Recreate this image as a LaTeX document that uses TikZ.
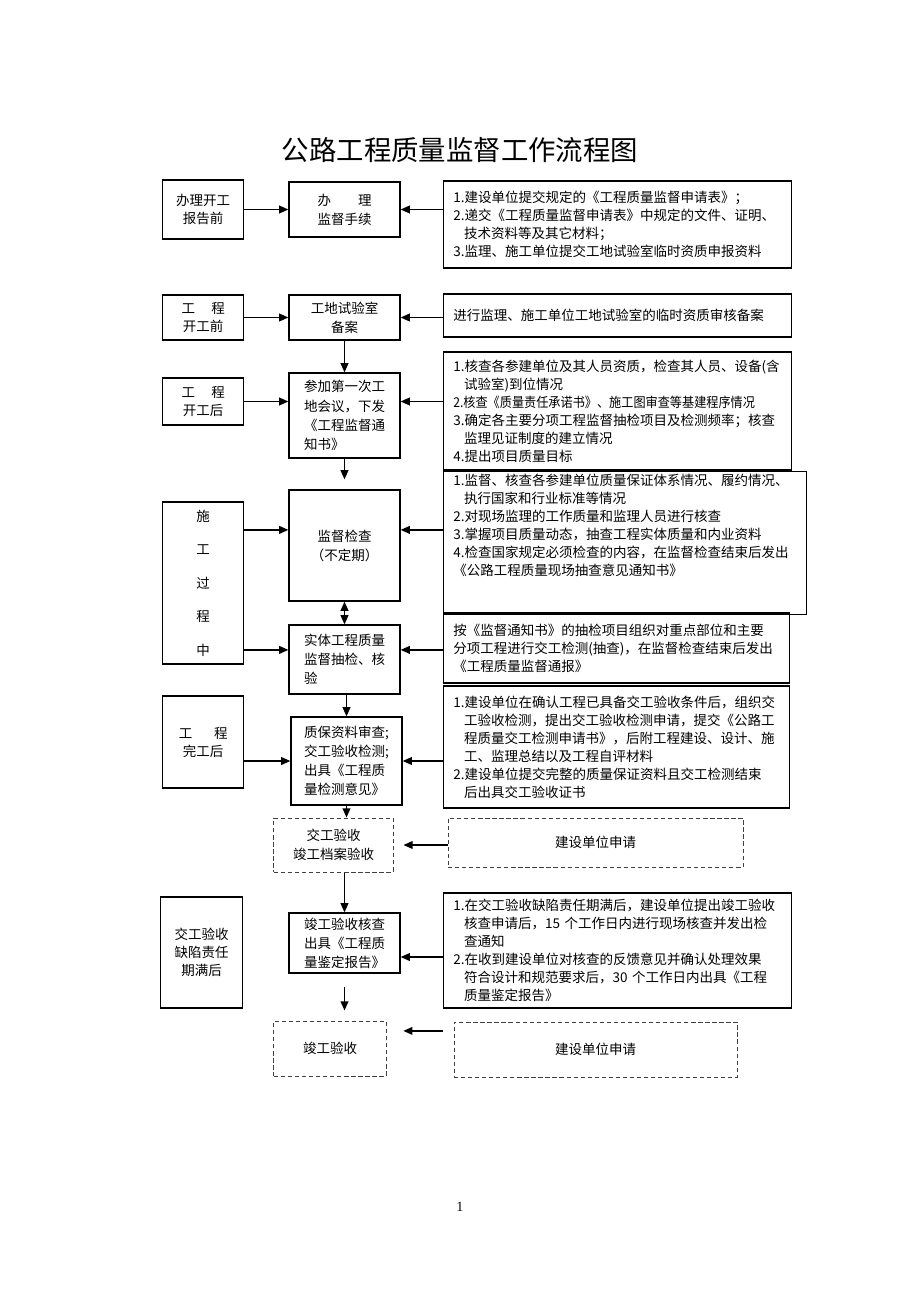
\documentclass[tikz,border=0pt]{standalone}
\usepackage{fontspec}
\usepackage{graphicx}
\setmainfont{Noto Sans CJK SC}
\newfontfamily\numfont{Liberation Serif}
\usetikzlibrary{arrows.meta,positioning}
\newcommand{\hangin}{\hspace*{0.8em}}

\begin{document}
\begin{tikzpicture}[
  x=0.025cm, y=-0.025cm,
  every node/.style={font=\fontsize{9.6}{12.8}\selectfont},
  lbox/.style={draw, line width=0.9pt, minimum width=2.025cm, align=center,
               inner sep=1pt},
  mbox/.style={draw, line width=0.9pt, minimum width=2.775cm, align=center,
               inner sep=1pt, font=\fontsize{9.6}{13.6}\selectfont},
  cbox/.style={draw, line width=0.9pt, text width=#1, inner xsep=0.25cm,
               inner ysep=2pt, align=left},
  cbox/.default=8.2cm,
  dbox/.style={draw=black!75, line width=0.7pt, dash pattern=on 3pt off 2pt,
               align=center, font=\fontsize{9.6}{13.6}\selectfont},
  arr/.style={draw, line width=1pt, ->, >={Triangle[length=6.5pt,width=5.5pt]}}
]
\useasboundingbox (0,0) rectangle (920,1302);

\node[font=\fontsize{19.5}{22}\selectfont] (title) at (460,150)
  {公路工程质量监督工作流程图};

\node[mbox, minimum height=1.375cm] (b1) at (344.5,209.5)
  {办\hspace{2em}理\\监督手续};
\node[lbox, minimum height=1.475cm, left=1.1cm of b1] (a1)
  {办理开工\\报告前};
\node[cbox, minimum height=2.175cm, right=1.05cm of b1, yshift=-0.375cm] (c1)
  {1.建设单位提交规定的《工程质量监督申请表》；\\
   2.递交《工程质量监督申请表》中规定的文件、证明、\\
   \hangin 技术资料等及其它材料；\\
   3.监理、施工单位提交工地试验室临时资质申报资料};

\node[mbox, minimum height=1.125cm] (b2) at (344.5,317.5)
  {工地试验室\\备案};
\node[lbox, minimum height=1.125cm, left=1.1cm of b2] (a2)
  {工\hspace{1.2em}程\\开工前};
\node[cbox, minimum height=1.075cm, right=1.05cm of b2, yshift=0.05cm] (c2)
  {进行监理、施工单位工地试验室的临时资质审核备案};

\node[mbox, minimum height=2.125cm, align=left] (b3) at (344.5,415.5)
  {参加第一次工\\地会议，下发\\《工程监督通\\知书》};
\node[lbox, minimum height=1.175cm, left=1.1cm of b3, yshift=0.35cm] (a3)
  {工\hspace{1.2em}程\\开工后};
\node[cbox, minimum height=2.95cm, right=1.05cm of b3, yshift=0.1125cm] (c3)
  {1.核查各参建单位及其人员资质，检查其人员、设备(含\\
   \hangin 试验室)到位情况\\
   \scalebox{0.9}[1]{2.核查《质量责任承诺书》、施工图审查等基建程序情况}\\
   3.确定各主要分项工程监督抽检项目及检测频率；核查\\
   \hangin 监理见证制度的建立情况\\
   4.提出项目质量目标};

\node[mbox, minimum height=2.775cm] (b4) at (344.5,545.5)
  {监督检查\\（不定期）};
\node[lbox, minimum height=4.05cm, left=1.1cm of b4, yshift=-0.9375cm] (a4)
  {施\\[11pt]工\\[11pt]过\\[11pt]程\\[11pt]中};
\node[cbox=8.575cm, minimum height=3.5cm, right=1.05cm of b4, yshift=0.0625cm] (c4)
  {1.监督、核查各参建单位质量保证体系情况、履约情况、\\
   \hangin 执行国家和行业标准等情况\\
   2.对现场监理的工作质量和监理人员进行核查\\
   3.掌握项目质量动态，抽查工程实体质量和内业资料\\
   4.检查国家规定必须检查的内容，在监督检查结束后发出\\
   《公路工程质量现场抽查意见通知书》\\ \mbox{}\\ \mbox{}};

\node[mbox, minimum height=1.725cm, align=left] (b5) at (344.5,659.5)
  {实体工程质量\\监督抽检、核\\验};
\node[cbox=8.15cm, minimum height=1.75cm, right=1.05cm of b5, yshift=0.2875cm] (c5)
  {按《监督通知书》的抽检项目组织对重点部位和主要\\
   分项工程进行交工检测(抽查)，在监督检查结束后发出\\
   《工程质量监督通报》};

\node[mbox, minimum height=2.2cm, align=left] (b6) at (346.5,761)
  {质保资料审查;\\交工验收检测;\\出具《工程质\\量检测意见》};
\node[lbox, minimum height=2.3cm, left=1.15cm of b6, yshift=0.475cm] (a6)
  {工\hspace{1.6em}程\\完工后};
\node[cbox=8.15cm, minimum height=3.05cm, right=1.0cm of b6, yshift=0.35cm] (c6)
  {1.建设单位在确认工程已具备交工验收条件后，组织交\\
   \hangin 工验收检测，提出交工验收检测申请，提交《公路工\\
   \hangin 程质量交工检测申请书》，后附工程建设、设计、施\\
   \hangin 工、监理总结以及工程自评材料\\
   2.建设单位提交完整的质量保证资料且交工检测结束\\
   \hangin 后出具交工验收证书};

\node[dbox, minimum width=2.975cm, minimum height=1.35cm] (d1) at (333.5,845)
  {交工验收\\竣工档案验收};
\node[dbox, minimum width=7.375cm, minimum height=1.225cm, right=1.35cm of d1,
      yshift=0.0625cm] (e1) {建设单位申请};

\node[mbox, minimum height=1.5cm, align=left] (b7) at (344.5,943)
  {竣工验收核查\\出具《工程质\\量鉴定报告》};
\node[lbox, minimum width=2.05cm, minimum height=2.775cm, left=1.125cm of b7,
      yshift=-0.2375cm] (a7) {交工验收\\缺陷责任\\期满后};
\node[cbox, minimum height=2.875cm, right=1.05cm of b7, yshift=-0.1875cm] (c7)
  {1.在交工验收缺陷责任期满后，建设单位提出竣工验收\\
   \hangin 核查申请后，15 个工作日内进行现场核查并发出检\\
   \hangin 查通知\\
   2.在收到建设单位对核查的反馈意见并确认处理效果\\
   \hangin 符合设计和规范要求后，30 个工作日内出具《工程\\
   \hangin 质量鉴定报告》};

\node[dbox, minimum width=2.8cm, minimum height=1.375cm] (d2) at (330,1048.5)
  {竣工验收};
\node[dbox, minimum width=7.075cm, minimum height=1.375cm, right=1.675cm of d2,
      yshift=-0.025cm] (e2) {建设单位申请};

\node[font=\numfont\fontsize{10}{12}\selectfont] (pg) at (460,1207) {1};

\draw[arr] (a1) -- (b1);
\draw[arr] (c1.west |- b1) -- (b1);
\draw[arr] (a2) -- (b2);
\draw[arr] (c2.west |- b2) -- (b2);
\draw[arr] (b2) -- (b3);
\draw[arr] (a3) -- (a3 -| b3.west);
\draw[arr] (c3.west |- a3) -- (a3 -| b3.east);
\draw[arr, shorten >=0.25cm] (b3) -- (b4);

\coordinate (r4) at ([yshift=0.39cm]b4.west);
\draw[arr] (a4.east |- r4) -- (r4);
\draw[arr] (c4.west |- r4) -- (r4 -| b4.east);
\draw[arr, <->] (b4) -- (b5);
\coordinate (r5) at ([yshift=0.24cm]b5.west);
\draw[arr] (a4.east |- r5) -- (r5);
\draw[arr] (c5.west |- r5) -- (r5 -| b5.east);

\draw[arr] (b5.south -| b6) -- (b6);
\draw[arr] (a6.east |- b6) -- (b6);
\draw[arr] (c6.west |- b6) -- (b6);
\draw[arr] (b6) -- (b6 |- d1.north);
\draw[arr, shorten >=0.25cm] (e1.west |- d1) -- (d1);
\draw[arr] (d1.south -| b7) -- (b7);

\coordinate (r7) at ([yshift=-0.35cm]b7.east);
\draw[arr] (c7.west |- r7) -- (r7);
\draw[arr, shorten <=0.33cm, shorten >=0.25cm] (b7) -- (b7 |- d2.north);
\coordinate (r8) at ([yshift=0.44cm]d2.east);
\draw[arr, shorten <=0.27cm, shorten >=0.42cm] (e2.west |- r8) -- (r8);
\end{tikzpicture}
\end{document}
